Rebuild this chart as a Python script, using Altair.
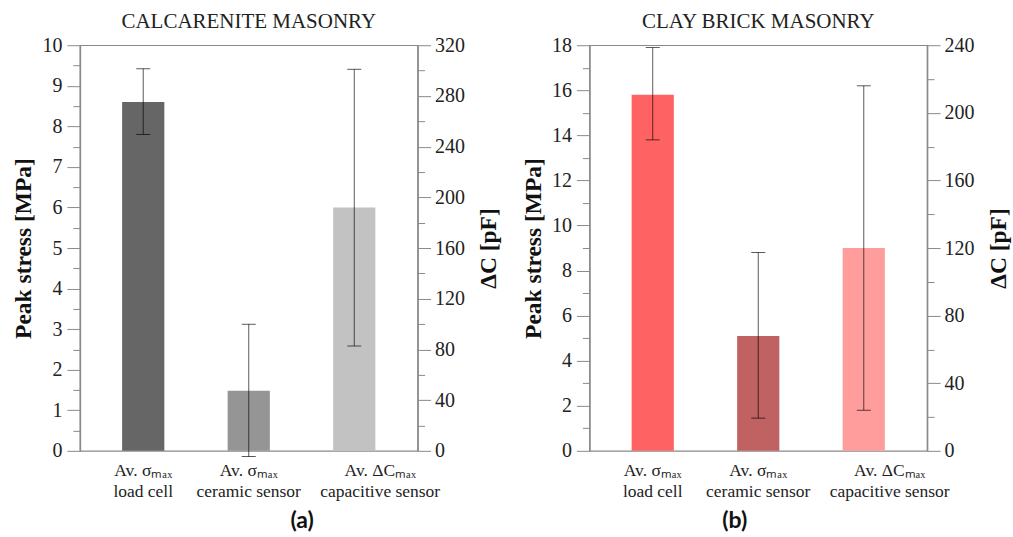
import altair as alt
import pandas as pd

categories = ["Av. σₘₐₓ|load cell", "Av. σₘₐₓ|ceramic sensor", "Av. ΔCₘₐₓ|capacitive sensor"]

calc_mean = [8.6, 1.48, 192.0]
calc_low = [7.8, -0.14, 82.7]
calc_high = [9.42, 3.12, 301.0]
calc_colors = ["#666666", "#959595", "#c2c2c2"]

clay_mean = [15.8, 5.1, 120.0]
clay_low = [13.8, 1.45, 24.0]
clay_high = [17.9, 8.8, 216.0]
clay_colors = ["#ff6262", "#c06262", "#ff9d9d"]

SERIF = "Liberation Serif"
AXIS_GREY = "#8a8a8a"


def panel(mean, low, high, colors, title, left_max, left_minor, left_major,
          right_max, panel_label, label_x):
    df = pd.DataFrame({"cat": categories, "mean": mean, "low": low, "high": high,
                       "colour": colors})
    left_df = df.iloc[:2]
    right_df = df.iloc[2:]

    x = alt.X(
        "cat:N",
        scale=alt.Scale(domain=categories, paddingInner=0.6, paddingOuter=0.4),
        axis=alt.Axis(
            title=panel_label,
            titleFont="Lato", titleFontSize=23, titleFontWeight="bold", titleColor="#111",
            titleX=label_x, titleY=70, titleBaseline="middle", titleAlign="center",
            labelExpr="split(datum.label, '|')",
            labelAngle=0, ticks=False, domain=False,
            labelFont=SERIF, labelFontSize=17.5, labelColor="#222", labelLineHeight=21,
            labelPadding=11,
            labelOffset={"condition": {"test": "indexof(datum.value, 'capacitive') >= 0", "value": 26}, "value": 0},
        ),
    )
    color = alt.Color("colour:N", scale=None, legend=None)

    def yaxis(orient, maxv, minor, major, ttl):
        vals = [round(i * minor, 4) for i in range(int(round(maxv / minor)) + 1)]
        extra = {"titleAngle": 270, "titleBaseline": "top"} if orient == "right" else {}
        return alt.Axis(
            orient=orient, values=vals, title=ttl, grid=False,
            labelExpr=f"abs(datum.value % {major}) < 1e-6 ? format(datum.value, 'd') : ''",
            labelOverlap=False,
            tickSize={"condition": {"test": f"abs(datum.value % {major}) < 1e-6", "value": 13}, "value": 7},
            tickColor=AXIS_GREY, domainColor=AXIS_GREY, domainWidth=1.5,
            labelFont=SERIF, labelFontSize=20, labelColor="#222",
            labelPadding=5 if orient == "left" else 4,
            titleFont=SERIF, titleFontSize=23.5, titleFontWeight="bold", titleColor="#111",
            titlePadding=6 if orient == "left" else 12,
            **extra,
        )

    axL = yaxis("left", left_max, left_minor, left_major, "Peak stress [MPa]")
    axR = yaxis("right", right_max, 20, 40, "ΔC [pF]")
    scL = alt.Scale(domain=[0, left_max], nice=False, zero=True)
    scR = alt.Scale(domain=[0, right_max], nice=False, zero=True)

    def sub(data, sc, ax):
        base = alt.Chart(data)
        bars = base.mark_bar().encode(x=x, y=alt.Y("mean:Q", scale=sc, axis=ax), color=color)
        rule = base.mark_rule(color="black", opacity=0.65, strokeWidth=1).encode(
            x=x, y=alt.Y("low:Q", scale=sc, axis=ax), y2="high:Q")
        cap1 = base.mark_tick(color="black", opacity=0.65, thickness=1, size=14).encode(
            x=x, y=alt.Y("low:Q", scale=sc, axis=ax))
        cap2 = base.mark_tick(color="black", opacity=0.65, thickness=1, size=14).encode(
            x=x, y=alt.Y("high:Q", scale=sc, axis=ax))
        return alt.layer(bars, rule, cap1, cap2)

    return alt.layer(sub(left_df, scL, axL), sub(right_df, scR, axR)).resolve_scale(
        y="independent"
    ).properties(
        width=338, height=406,
        title=alt.TitleParams(title, font=SERIF, fontSize=21, fontWeight="normal",
                              color="#222", frame="group", offset=3),
    )


pa = panel(calc_mean, calc_low, calc_high, calc_colors, "CALCARENITE MASONRY",
           10, 0.5, 1, 320, "(a)", 222)
pb = panel(clay_mean, clay_low, clay_high, clay_colors, "CLAY BRICK MASONRY",
           18, 1, 2, 240, "(b)", 145)

chart = alt.hconcat(pa, pb, spacing=19).properties(
    padding={"left": 11, "top": 10, "right": 2, "bottom": 0}
).configure(
    font=SERIF, background="white"
).configure_view(
    stroke=AXIS_GREY, strokeWidth=1.2
).configure_axis(
    labelFont=SERIF
)

chart.save("out.html", embed_options={"renderer": "svg", "actions": False})
